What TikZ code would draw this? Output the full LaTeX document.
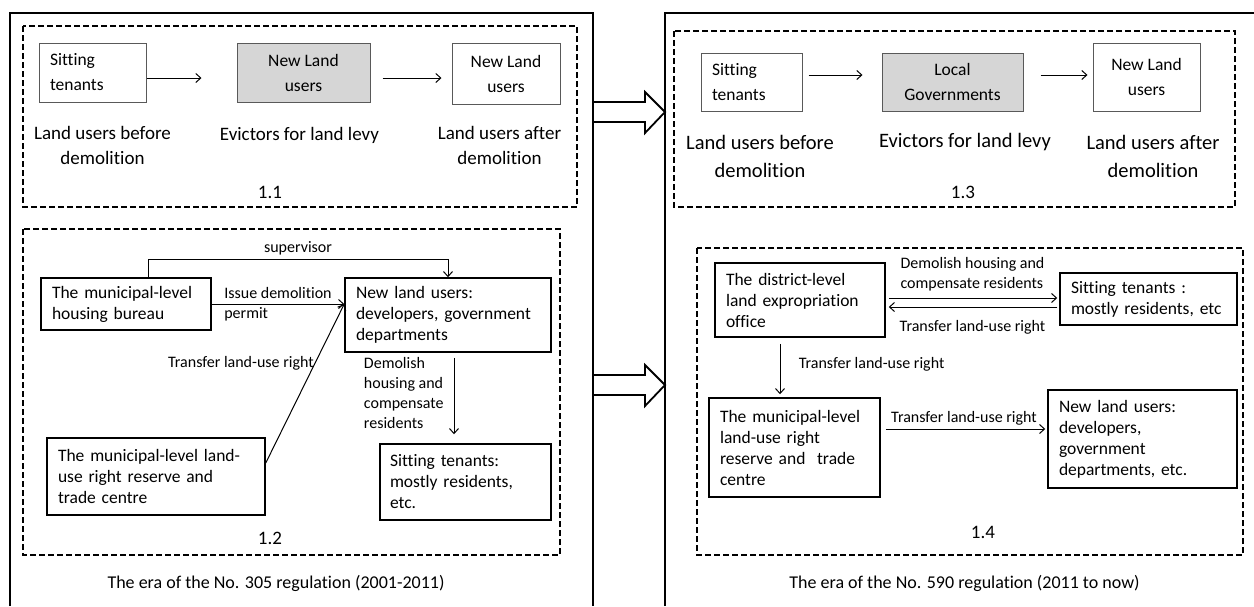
\documentclass[tikz,border=0pt]{standalone}
\usepackage{fontspec}
\setmainfont{Carlito}[RawFeature={-liga;-calt;-clig;-dlig}]
\usetikzlibrary{arrows.meta}
\tikzset{
    outerframe/.style={line width=2.2pt},
    zone/.style={line width=1.4pt, dash pattern=on 6pt off 3pt},
    flatbox/.style={draw=black!65, line width=1pt, inner sep=0pt, align=center,
      font=\fontsize{17.5}{25}\selectfont},
    shadebox/.style={flatbox, fill=black!16},
    actorbox/.style={draw, line width=1.5pt, inner xsep=11pt, inner ysep=0pt,
      align=left, font=\fontsize{17.5}{21}\selectfont},
    capt/.style={align=center, font=\fontsize{19}{25}\selectfont},
    bigcapt/.style={align=center, font=\fontsize{20.5}{28}\selectfont},
    edgelbl/.style={align=left, font=\fontsize{16}{20}\selectfont},
    eralbl/.style={font=\fontsize{18}{22}\selectfont},
    flowline/.style={->, line width=1pt}
}
\begin{document}
\begin{tikzpicture}[x=1pt, y=-1pt, >={Straight Barb[length=5pt,width=9pt]}]
    \useasboundingbox (0,0) rectangle (1254,606);
    \foreach \yy in {112,385} {
      \draw[line width=1.8pt, fill=white] (593,\yy-10) -- (645,\yy-10) -- (645,\yy-20)
        -- (665,\yy) -- (645,\yy+21) -- (645,\yy+10) -- (593,\yy+10) -- cycle;
    }
    \draw[outerframe] (10,606) -- (10,13) -- (593,13) -- (593,606);
    \draw[outerframe] (665,606) -- (665,13) -- (1254,13);
    \draw[zone] (23,26) rectangle (577,207);
    \draw[zone] (674,31) rectangle (1235,207);
    \draw[zone] (23,229) rectangle (560,555);
    \draw[zone] (697,248) rectangle (1243,555);
    \node[flatbox, align=left, inner xsep=11pt, text width=85pt, minimum height=59pt]
      (st1) at (92.5,72.5) {Sitting\\tenants};
    \node[shadebox, minimum width=133pt, minimum height=59pt] (ev1) at (303.5,72.5) {New Land\\users};
    \node[flatbox, minimum width=108pt, minimum height=61pt] (nu1) at (506,73.5) {New Land\\users};
    \draw[flowline, shorten >=35pt] ([yshift=-5.5pt]st1.east) -- ([yshift=-5.5pt]ev1.west);
    \draw[flowline, shorten <=12pt, shorten >=10pt] ([yshift=-5.5pt]ev1.east) -- ([yshift=-4.5pt]nu1.west);
    \node[capt] (bf1) at (102.5,145.5) {Land users before\\demolition};
    \node[capt] (evl1) at (299.5,135) {Evictors for land levy};
    \node[capt] (af1) at (499.5,145.5) {Land users after\\demolition};
    \node[capt] (n11) at (270,192) {1.1};
    \node[flatbox, align=left, inner xsep=11pt, text width=79pt, minimum height=58pt]
      (st3) at (751.5,82) {Sitting\\tenants};
    \node[shadebox, minimum width=141pt, minimum height=58pt] (ev3) at (952.5,82) {Local\\Governments};
    \node[flatbox, minimum width=107pt, minimum height=68pt] (nu3) at (1146.5,77) {New Land\\users};
    \draw[flowline, shorten <=6pt, shorten >=19pt] ([yshift=7pt]st3.east) -- ([yshift=7pt]ev3.west);
    \draw[flowline, shorten <=17pt, shorten >=5pt] ([yshift=7pt]ev3.east) -- ([yshift=2pt]nu3.west);
    \node[bigcapt] (bf3) at (760,156) {Land users before\\demolition};
    \node[bigcapt] (evl3) at (965,142) {Evictors for land levy};
    \node[bigcapt] (af3) at (1153,156) {Land users after\\demolition};
    \node[capt] (n13) at (963,192) {1.3};
    \node[actorbox, text width=148pt, minimum height=52pt] (hb) at (126,304)
      {The municipal-level\\housing bureau};
    \node[actorbox, text width=184pt, minimum height=74pt] (nl2) at (448,315)
      {New land users:\\developers, government\\departments};
    \node[actorbox, text width=196pt, minimum height=77pt] (rc) at (156,476.5)
      {The municipal-level land-\\use right reserve and\\trade centre};
    \node[actorbox, inner xsep=10pt, text width=151pt, minimum height=76pt] (st2) at (465.5,482)
      {Sitting tenants:\\mostly residents,\\etc.};
    \draw[flowline] ([xshift=22pt]hb.north) -- ++(0,-18) -| node[edgelbl, pos=.25, above] (sup) {supervisor} (nl2.north);
    \draw[flowline] (hb.east) -- node[edgelbl] (idp) {Issue demolition\\permit} (hb.east -| nl2.west);
    \draw[flowline] ([yshift=13.5pt]rc.east) -- node[edgelbl, pos=.63, left, inner sep=1pt] (tlr2)
      {Transfer land-use right} (hb.east -| nl2.west);
    \draw[flowline, shorten <=5pt, shorten >=9pt] ([xshift=6pt]nl2.south) -- node[edgelbl, pos=.45, left, inner xsep=10pt]
      (dem2) {Demolish\\housing and\\compensate\\residents} ([xshift=6pt]nl2.south |- st2.north);
    \node[capt] (n12) at (270,538) {1.2};
    \node[eralbl] (era1) at (276,583) {The era of the No. 305 regulation (2001-2011)};
    \node[actorbox, text width=148pt, minimum height=74pt] (dlo) at (800,300)
      {The district-level\\land expropriation\\office};
    \node[actorbox, text width=155pt, minimum height=52pt] (st4) at (1148.5,299)
      {Sitting tenants :\\mostly residents, etc};
    \node[actorbox, text width=149pt, minimum height=99pt] (mrc) at (794.5,447.5)
      {The municipal-level\\land-use right\\reserve and \ trade\\centre};
    \node[actorbox, text width=167pt, minimum height=98pt] (nl4) at (1142.5,439)
      {New land users:\\developers,\\government\\departments, etc.};
    \draw[flowline, shorten <=3pt, shorten >=2pt] ([yshift=2pt]dlo.east) -- node[edgelbl, above=3pt] (dh4)
      {Demolish housing and\\compensate residents} ([yshift=2pt]dlo.east -| st4.west);
    \draw[flowline, shorten <=2pt, shorten >=3pt] ([yshift=-7pt]dlo.east -| st4.west) -- node[edgelbl, below=10pt]
      (tr4a) {Transfer land-use right} ([yshift=-7pt]dlo.east);
    \draw[flowline, shorten <=6pt, shorten >=3pt] ([xshift=-20pt]dlo.south) -- node[edgelbl, pos=.45, right=15pt]
      (tr4b) {Transfer land-use right} ([xshift=-20pt]dlo.south |- mrc.north);
    \draw[flowline, shorten <=5pt, shorten >=2pt] ([yshift=18.5pt]mrc.east) -- node[edgelbl, above]
      (tr4c) {Transfer land-use right} ([yshift=18.5pt]mrc.east -| nl4.west);
    \node[capt] (n14) at (983,532) {1.4};
    \node[eralbl] (era2) at (964.5,583) {The era of the No. 590 regulation (2011 to now)};
  \end{tikzpicture}
\end{document}
